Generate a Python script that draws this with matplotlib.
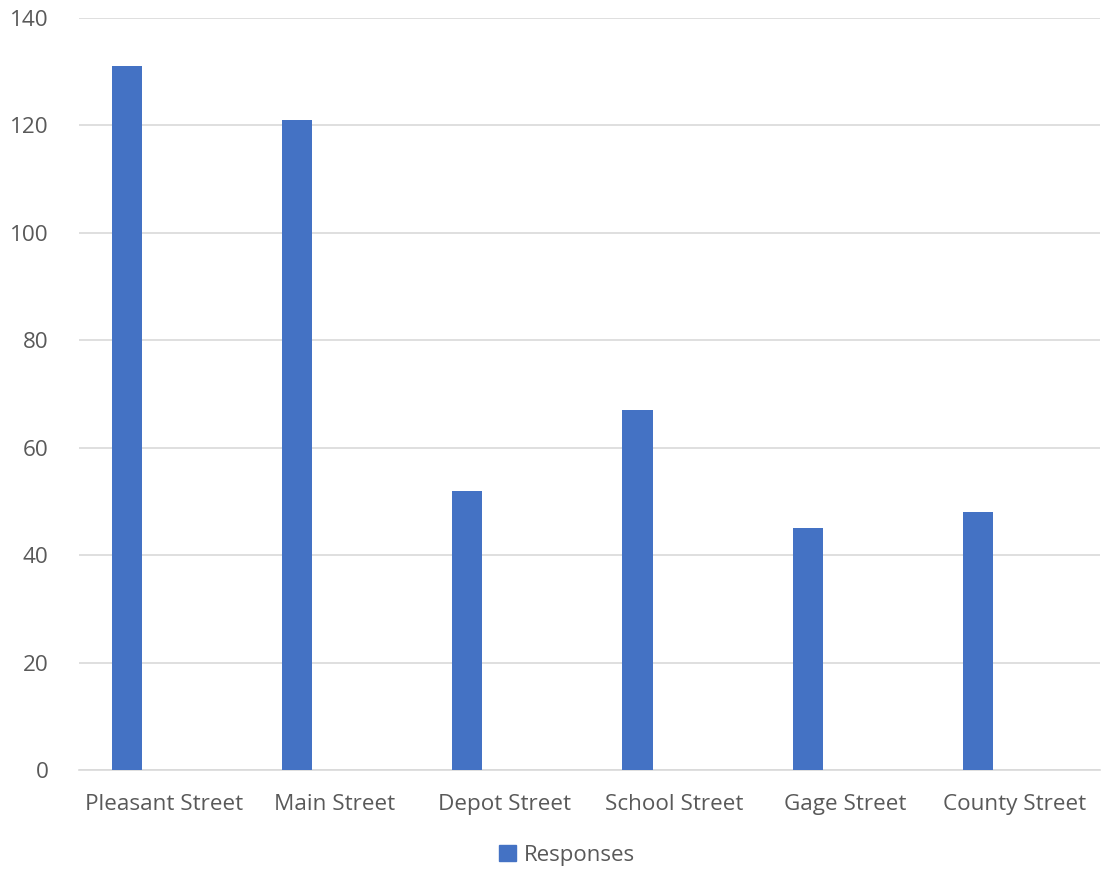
import matplotlib.pyplot as plt
from matplotlib.patches import Patch

streets = ['Pleasant Street', 'Main Street', 'Depot Street', 'School Street',
           'Gage Street', 'County Street']
responses = [131, 121, 52, 67, 45, 48]

plt.rcParams['font.family'] = ['Open Sans', 'DejaVu Sans']
grey = '#595959'
bar_col = '#4472C4'

fig = plt.figure(figsize=(11.01, 8.73), dpi=100)
ax = fig.add_axes([79 / 1101, 1 - 770 / 873, 1021 / 1101, 752 / 873])

x = range(len(streets))
ax.bar([i - 0.218 for i in x], responses, width=0.177, color=bar_col, zorder=3)

ax.set_xlim(-0.5, len(streets) - 0.5)
ax.set_ylim(0, 140)
ax.set_yticks(range(0, 141, 20))
ax.set_xticks(list(x))
ax.set_xticklabels(streets)
ax.grid(axis='y', color='#D9D9D9', linewidth=1.2, zorder=0)
for s in ['top', 'right', 'left']:
    ax.spines[s].set_visible(False)
ax.spines['bottom'].set_color('#D9D9D9')
ax.spines['bottom'].set_linewidth(1.2)
ax.tick_params(length=0, labelsize=16.2, labelcolor=grey)
ax.tick_params(axis='x', pad=17)
ax.tick_params(axis='y', pad=22)

fig.legend(handles=[Patch(color=bar_col, label='Responses')], loc='center',
           bbox_to_anchor=(567 / 1101, 1 - 855 / 873), frameon=False,
           fontsize=16, labelcolor=grey, handlelength=0.75, handleheight=0.75,
           handletextpad=0.35)

fig.savefig('out.png', dpi=100)
